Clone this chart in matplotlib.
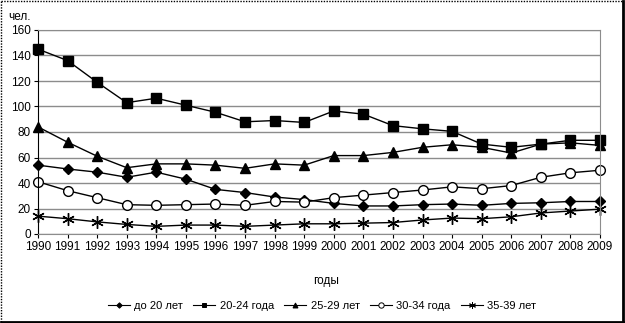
import matplotlib
matplotlib.use('Agg')
import matplotlib.pyplot as plt
from matplotlib.lines import Line2D

plt.rcParams['font.family'] = ['Liberation Sans', 'DejaVu Sans']
plt.rcParams['font.size'] = 8.5

years = [str(y) for y in range(1990, 2010)]
under_20 = [54, 51, 48.5, 44.5, 48.5, 43, 35, 32.5, 29, 27, 24, 22, 22, 23, 23.5, 22.5, 24, 24.5, 25.5, 25.5]
age_20_24 = [145, 136, 119, 103, 106.5, 101, 95.5, 88, 89, 87.5, 96.5, 94, 85, 82.5, 80.5, 70.5, 68, 70.5, 73.5, 73.5]
age_25_29 = [84, 72, 61, 52, 55, 55, 54, 51.5, 55, 54, 61.5, 61.5, 64, 68, 70, 68, 63.5, 70.5, 71.5, 69.5]
age_30_34 = [41, 34, 28.5, 23, 22.5, 23, 23.5, 22.5, 25.5, 25, 28.5, 30.5, 32.5, 34.5, 37, 35.5, 38, 44.5, 48, 50]
age_35_39 = [14, 12, 9.5, 7.5, 6, 7, 7, 6, 7, 8, 8, 8.5, 9, 11, 12.5, 12, 13.5, 16.5, 18, 19.5]

star = (6, 2, 0)
series = [
    ('до 20 лет', under_20, 'D', 'k', 5),
    ('20-24 года', age_20_24, 's', 'k', 6.5),
    ('25-29 лет', age_25_29, '^', 'k', 6.5),
    ('30-34 года', age_30_34, 'o', 'white', 7),
    ('35-39 лет', age_35_39, star, 'k', 9),
]

fig = plt.figure(figsize=(6.25, 3.23), dpi=100)
ax = fig.add_axes([38 / 625, 1 - 234 / 323, (600 - 38) / 625, (234 - 30) / 323])

x = list(range(len(years)))
handles = []
for name, vals, mk, fc, ms in series:
    ax.plot(x, vals, color='k', lw=1, marker=mk, ms=ms, mfc=fc, mec='k',
            mew=1, clip_on=False)
    handles.append(Line2D([], [], color='k', lw=0.8, marker=mk, ms=ms * 0.55,
                          mfc=fc, mec='k', mew=0.7, label=name))

ax.set_xlim(0, len(years) - 1)
ax.set_ylim(0, 160)
ax.set_yticks(range(0, 161, 20))
ax.set_xticks(x)
ax.set_xticklabels(years)
ax.yaxis.grid(True, color='#8c8c8c', lw=1)
ax.set_axisbelow(True)
for s in ['top', 'right', 'bottom']:
    ax.spines[s].set_color('#8c8c8c')
ax.spines['left'].set_color('k')
ax.tick_params(axis='both', length=3, width=0.8, pad=2, labelsize=8.5)

fig.text(8 / 625, 1 - 17 / 323, 'чел.', fontsize=8.5, va='center')
fig.text(326 / 625, 1 - 281 / 323, 'годы', fontsize=8.5, ha='center', va='center')

fig.legend(handles=handles, loc='center', bbox_to_anchor=(322 / 625, 1 - 306 / 323),
           ncol=5, frameon=False, fontsize=8, handlelength=2.0,
           handletextpad=0.4, columnspacing=0.9)

# outer frame: dotted on top/left, solid on right/bottom
fr = dict(transform=fig.transFigure, color='k')
fig.add_artist(Line2D([0.002, 0.002], [0.003, 0.997], lw=1, ls=(0, (1, 1)), **fr))
fig.add_artist(Line2D([0.002, 0.997], [0.997, 0.997], lw=1, ls=(0, (1, 1)), **fr))
fig.add_artist(Line2D([0.997, 0.997], [0.003, 0.997], lw=2, **fr))
fig.add_artist(Line2D([0.002, 0.997], [0.004, 0.004], lw=2, **fr))

fig.savefig('out.png', dpi=100)
